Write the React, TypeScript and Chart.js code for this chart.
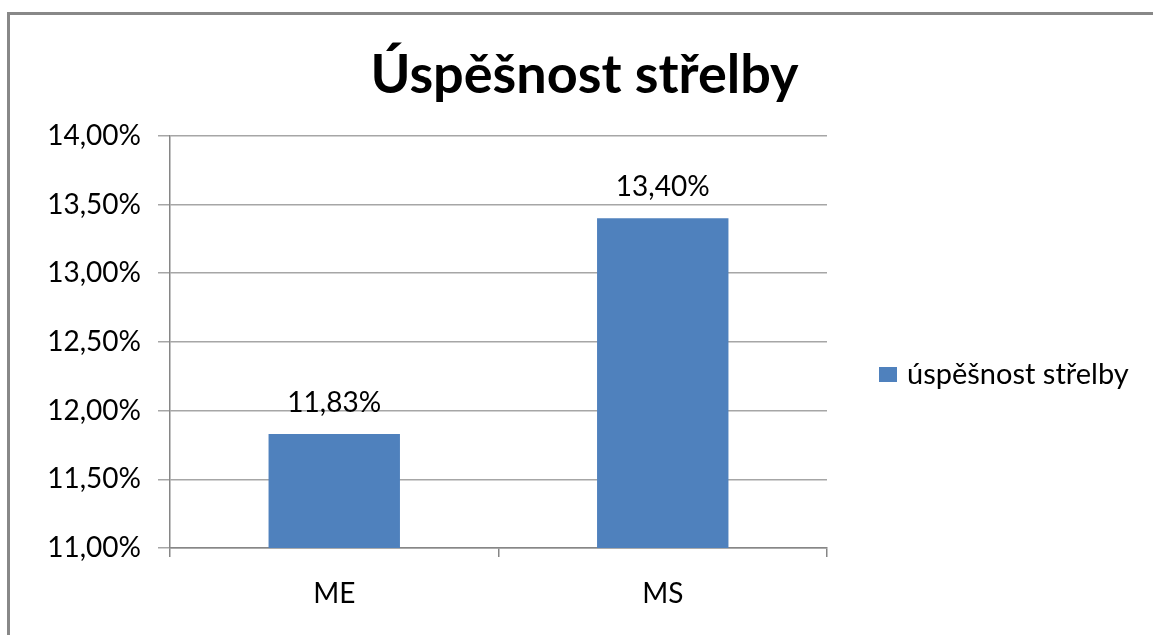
import React, { useEffect, useRef } from "react";
import { Chart, registerables } from "chart.js";

Chart.register(...registerables);

const chartTitle = "Úspěšnost střelby";
const categories = ["ME", "MS"];
const seriesLabel = "úspěšnost střelby";
const seriesValues = [0.1183, 0.134];
const valueLabels = ["11,83%", "13,40%"];
const yTicks = [0.11, 0.115, 0.12, 0.125, 0.13, 0.135, 0.14];
const yTickLabels = ["11,00%", "11,50%", "12,00%", "12,50%", "13,00%", "13,50%", "14,00%"];

const FONT = "Lato, 'Open Sans', sans-serif";
const BAR_COLOR = "#4f81bd";

const framePlugin = {
  id: "frame",
  beforeDraw(chart: any) {
    const ctx = chart.ctx;
    ctx.save();
    ctx.strokeStyle = "#888";
    ctx.lineWidth = 3;
    ctx.beginPath();
    ctx.moveTo(8.5, chart.height + 5);
    ctx.lineTo(8.5, 13.5);
    ctx.lineTo(chart.width + 5, 13.5);
    ctx.stroke();
    ctx.restore();
  },
};

const valueLabelPlugin = {
  id: "valueLabels",
  afterDatasetsDraw(chart: any) {
    const ctx = chart.ctx;
    const meta = chart.getDatasetMeta(0);
    ctx.save();
    ctx.font = `28px ${FONT}`;
    ctx.fillStyle = "#000";
    ctx.textAlign = "center";
    ctx.textBaseline = "alphabetic";
    meta.data.forEach((bar: any, i: number) => {
      ctx.fillText(valueLabels[i], bar.x, bar.y - 22);
    });
    ctx.restore();
  },
};

const sideLegendPlugin = {
  id: "sideLegend",
  afterDraw(chart: any) {
    const ctx = chart.ctx;
    const ds = chart.data.datasets[0];
    const area = chart.chartArea;
    const x0 = area.right + 52;
    const yc = 375;
    ctx.save();
    ctx.fillStyle = ds.backgroundColor;
    ctx.fillRect(x0, yc - 8, 18, 15);
    ctx.font = `29px ${FONT}`;
    ctx.fillStyle = "#000";
    ctx.textAlign = "left";
    ctx.textBaseline = "middle";
    ctx.fillText(ds.label, x0 + 28, yc);
    ctx.restore();
  },
};

export default function App() {
  const canvasRef = useRef<HTMLCanvasElement | null>(null);

  useEffect(() => {
    document.documentElement.style.overflow = "hidden";
    document.body.style.overflow = "hidden";
    document.body.style.margin = "0";
    const canvas = canvasRef.current;
    if (!canvas) return;
    const chart = new Chart(canvas, {
      type: "bar",
      data: {
        labels: categories,
        datasets: [
          {
            label: seriesLabel,
            data: seriesValues,
            backgroundColor: BAR_COLOR,
            borderWidth: 0,
            categoryPercentage: 0.8,
            barPercentage: 0.5,
          },
        ],
      },
      options: {
        responsive: false,
        animation: false,
        layout: { padding: { left: 16, right: 0, top: 0, bottom: 0 } },
        plugins: {
          legend: { display: false },
          tooltip: { enabled: false },
          title: {
            display: true,
            text: chartTitle,
            color: "#000",
            font: { family: FONT, size: 54, weight: "bold" },
            padding: { top: 43, bottom: 28 },
          },
        },
        scales: {
          x: {
            grid: {
              display: true,
              drawOnChartArea: false,
              tickLength: 9,
              color: "#868686",
              lineWidth: 1.5,
              offset: true,
            },
            border: { color: "#868686", width: 1.5 },
            ticks: { color: "#000", font: { family: FONT, size: 28 }, padding: 20 },
            afterFit: (s: any) => {
              s.height = 87;
            },
          },
          y: {
            min: 0.11,
            max: 0.14,
            afterBuildTicks: (s: any) => {
              s.ticks = yTicks.map((v) => ({ value: v }));
            },
            ticks: {
              color: "#000",
              font: { family: FONT, size: 28 },
              padding: 17,
              callback: (v: any) => yTickLabels[yTicks.findIndex((t) => Math.abs(t - v) < 1e-9)],
            },
            grid: { color: "#a6a6a6", lineWidth: 1.5, tickLength: 12 },
            border: { color: "#868686", width: 1.5 },
            afterFit: (s: any) => {
              s.width = 154;
            },
          },
          legendSpace: {
            type: "linear",
            position: "right",
            display: true,
            min: 0.11,
            max: 0.14,
            grid: { display: false, drawOnChartArea: false, drawTicks: false },
            border: { display: false },
            ticks: { display: false },
            afterFit: (s: any) => {
              s.width = 326;
            },
          },
        },
      },
      plugins: [framePlugin, valueLabelPlugin, sideLegendPlugin],
    } as any);
    return () => chart.destroy();
  }, []);

  return (
    <div style={{ position: "fixed", left: 0, top: 0, width: 1153, height: 635, overflow: "hidden", background: "#fff" }}>
      <canvas ref={canvasRef} width={1153} height={635} style={{ display: "block", width: 1153, height: 635 }} />
    </div>
  );
}
